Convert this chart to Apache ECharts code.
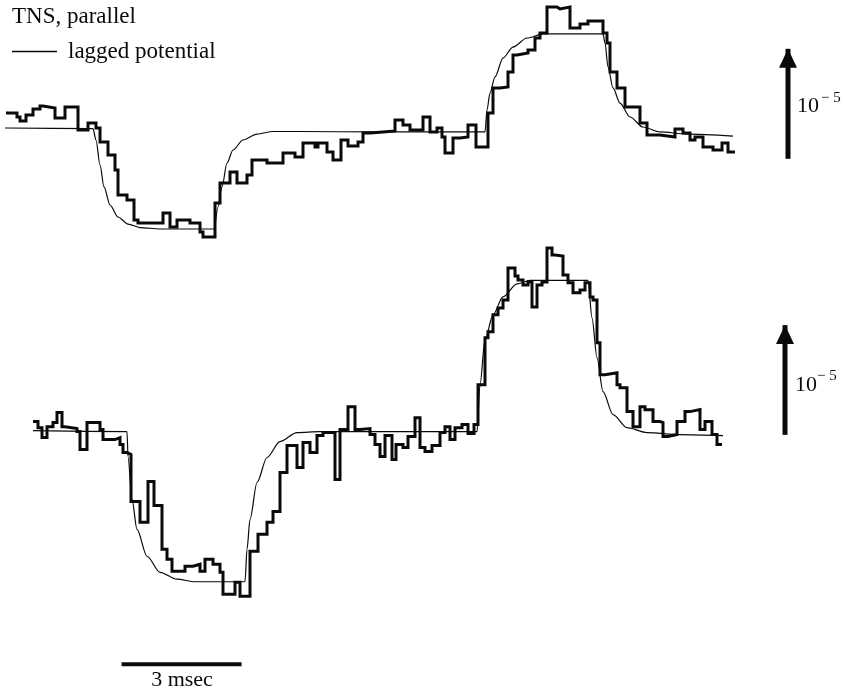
<!DOCTYPE html>
<html>
<head>
<meta charset="utf-8">
<script src="https://cdn.jsdelivr.net/npm/echarts@6/dist/echarts.min.js"></script>
<style>
html,body{margin:0;padding:0;background:#fff;}
#chart{width:847px;height:695px;}
</style>
</head>
<body>
<div id="chart"></div>
<script>
// time in msec, signal in units of 1e-6 (step traces: [segment start, level])
const topMeasured = [[0.15,1.36],[0.425,1.0],[0.5,0.64],[0.65,1.18],[0.825,1.73],[1.0,2.0],[1.075,1.82],[1.375,0.91],[1.625,1.91],[1.95,-0.18],[2.2,0.45],[2.4,0],[2.5,-1.27],[2.7,-2.45],[2.875,-3.82],[2.95,-6.09],[3.175,-6.55],[3.35,-8.36],[3.45,-8.64],[4.075,-7.73],[4.25,-9.0],[4.425,-8.36],[4.75,-8.64],[5.0,-9.45],[5.075,-9.91],[5.375,-6.82],[5.5,-5.0],[5.75,-4.0],[5.925,-5.0],[6.175,-4.27],[6.3,-2.91],[6.675,-3.18],[7.075,-2.27],[7.375,-2.64],[7.575,-1.36],[7.875,-1.73],[7.95,-1.36],[8.175,-2.18],[8.325,-2.91],[8.525,-1.09],[8.7,-1.64],[8.95,-1.27],[9.075,-0.45],[9.25,-0.36],[9.575,-0.27],[9.875,0.73],[10.075,0.27],[10.25,-0.18],[10.575,1.0],[10.75,-0.36],[10.925,0],[11.05,-0.82],[11.125,-2.27],[11.325,-0.91],[11.5,-0.82],[11.7,0.27],[11.9,-1.73],[12.2,1.36],[12.325,3.64],[12.5,3.73],[12.7,5.09],[12.825,6.64],[12.925,6.82],[13.2,7.09],[13.375,8.18],[13.5,8.64],[13.675,11.0],[13.925,10.82],[14.0,11.0],[14.25,9.09],[14.5,9.45],[14.7,9.73],[15.075,8.64],[15.175,7.73],[15.25,5.09],[15.425,3.64],[15.625,1.91],[16.0,0.45],[16.175,-0.64],[16.5,-0.82],[16.875,-0.09],[17.075,-0.45],[17.25,-1.09],[17.375,-0.82],[17.575,-1.73],[17.825,-2.0],[18.05,-1.36],[18.2,-2.18],[18.375,-2.18]];

const topLagged = [[0.125,0],[2.25,-0.05],[2.325,-0.05],[2.4,-1.09],[2.5,-3.36],[2.6,-5.36],[2.75,-7.0],[2.95,-8.09],[3.2,-8.73],[3.5,-9.05],[4.0,-9.18],[5.35,-9.18],[5.45,-7.18],[5.55,-5.36],[5.675,-3.18],[5.825,-2.0],[6.075,-1.09],[6.425,-0.55],[6.825,-0.32],[7.5,-0.32],[9.5,-0.36],[12.125,-0.36],[12.175,1.64],[12.25,3.18],[12.375,4.64],[12.575,6.36],[12.825,7.36],[13.175,8.18],[13.575,8.55],[15.075,8.55],[15.125,7.73],[15.2,5.55],[15.325,3.64],[15.5,2.27],[15.75,1.0],[16.075,0.09],[16.5,-0.36],[17.175,-0.55],[18.325,-0.73]];

const bottomMeasured = [[0.825,0.91],[0.95,0.36],[1.05,-0.55],[1.175,0.45],[1.325,0.82],[1.425,1.73],[1.55,0.45],[1.625,0.27],[1.925,0],[2.0,-1.64],[2.175,0.82],[2.5,0.18],[2.575,-0.73],[2.875,-0.55],[3.0,-1.18],[3.075,-1.91],[3.175,-2.09],[3.275,-6.36],[3.5,-8.27],[3.7,-4.55],[3.85,-6.73],[4.05,-10.73],[4.175,-11.64],[4.3,-12.73],[4.625,-12.27],[4.825,-12.09],[5.0,-12.73],[5.125,-11.64],[5.325,-12.09],[5.5,-12.82],[5.575,-14.82],[5.875,-13.73],[6.0,-15.0],[6.25,-10.91],[6.45,-9.36],[6.675,-8.27],[6.825,-7.27],[7.0,-3.73],[7.175,-1.27],[7.425,-3.27],[7.575,-1.0],[7.75,-1.91],[7.925,-0.36],[8.075,-0.09],[8.375,-4.36],[8.5,0.18],[8.7,2.27],[8.875,0.18],[9.0,0.27],[9.25,-0.27],[9.375,-1.18],[9.5,-2.27],[9.625,-0.36],[9.8,-2.55],[9.9,-1.18],[10.075,-1.45],[10.2,-0.45],[10.375,1.27],[10.5,-1.45],[10.625,-1.82],[10.8,-1.27],[11.0,-0.09],[11.125,0.45],[11.25,-0.73],[11.375,0.36],[11.55,0.64],[11.7,-0.18],[11.85,0.64],[11.95,4.27],[12.125,8.55],[12.2,9.09],[12.325,10.64],[12.45,11.27],[12.575,12.0],[12.7,14.91],[12.875,14.18],[12.95,13.82],[13.075,13.36],[13.2,13.64],[13.3,11.36],[13.425,13.36],[13.55,13.64],[13.675,16.73],[13.8,16.09],[13.875,16.0],[14.075,14.27],[14.2,13.55],[14.325,12.64],[14.5,12.91],[14.625,13.55],[14.75,12.27],[14.825,12.0],[14.925,8.09],[15.0,5.18],[15.125,5.36],[15.425,4.27],[15.5,4.0],[15.675,1.82],[15.825,0.45],[16.0,2.27],[16.125,2.0],[16.325,0.91],[16.5,0.82],[16.575,-0.45],[16.7,-0.27],[16.925,0.91],[17.125,1.82],[17.25,2.0],[17.5,0.18],[17.625,0.91],[17.8,-0.27],[17.925,-1.18],[18.05,-1.18]];

const bottomLagged = [[0.825,0.09],[3.175,0],[3.2,-2.27],[3.3,-6.18],[3.425,-8.91],[3.675,-11.36],[4.0,-12.82],[4.425,-13.45],[4.875,-13.68],[6.125,-13.68],[6.175,-10.73],[6.25,-8.0],[6.425,-4.64],[6.675,-2.36],[7.0,-0.91],[7.425,-0.09],[8.0,0],[11.925,0],[12.0,4.27],[12.125,8.36],[12.325,10.64],[12.575,12.27],[12.925,13.45],[13.25,13.77],[14.7,13.77],[14.8,10.36],[14.925,6.73],[15.075,3.64],[15.325,1.55],[15.675,0.36],[16.175,-0.09],[17.0,-0.27],[18.075,-0.36]];

const arrowUnits = 10;        // 10^-5 scale arrows (in 1e-6 units)
const topArrowBase = -2.8;
const bottomArrowBase = -0.3;
const scaleBarMs = 3;         // 3 msec time bar
const scaleBarStart = 3.04;
const scaleBarLevel = -21.2;

const INK = '#0a0a0a';
const SERIF = '"Liberation Serif", "Times New Roman", serif';

const chart = echarts.init(document.getElementById('chart'), null, {renderer: 'canvas'});

function arrowSeries(gridIdx, xPos, base) {
  return {
    type: 'line', xAxisIndex: gridIdx, yAxisIndex: gridIdx,
    silent: true, clip: false,
    lineStyle: {color: INK, width: 5, cap: 'butt'},
    itemStyle: {color: INK},
    data: [
      {value: [xPos, base], symbol: 'none'},
      {value: [xPos, base + arrowUnits], symbol: 'triangle', symbolSize: [18, 19], symbolOffset: [0, '50%']}
    ]
  };
}

const option = {
  backgroundColor: '#ffffff',
  animation: false,
  legend: {
    data: ['lagged potential'],
    left: 12, top: 40, padding: 0,
    icon: 'rect',
    itemWidth: 45, itemHeight: 1.3,
    selectedMode: false,
    itemStyle: {color: INK},
    textStyle: {fontFamily: SERIF, fontSize: 23, color: INK, padding: [0, 0, 0, 6]}
  },
  grid: [
    {left: 0, right: 0, top: 7, height: 286},
    {left: 0, right: 0, top: 245, height: 451}
  ],
  xAxis: [
    {type: 'value', gridIndex: 0, min: 0, max: 21.175, show: false},
    {type: 'value', gridIndex: 1, min: 0, max: 21.175, show: false}
  ],
  yAxis: [
    {type: 'value', gridIndex: 0, min: -15, max: 11, show: false},
    {type: 'value', gridIndex: 1, min: -24, max: 17, show: false}
  ],
  series: [
    {
      name: 'TNS, parallel', type: 'line', step: 'end', xAxisIndex: 0, yAxisIndex: 0,
      symbol: 'none', clip: false, silent: true,
      lineStyle: {color: INK, width: 3, join: 'miter'},
      data: topMeasured
    },
    {
      name: 'lagged potential', type: 'line', xAxisIndex: 0, yAxisIndex: 0,
      symbol: 'none', showSymbol: false, clip: false, silent: true, smooth: 0.3, smoothMonotone: 'x',
      lineStyle: {color: INK, width: 1.2},
      itemStyle: {color: INK},
      data: topLagged
    },
    {
      name: 'TNS, parallel', type: 'line', step: 'end', xAxisIndex: 1, yAxisIndex: 1,
      symbol: 'none', clip: false, silent: true,
      lineStyle: {color: INK, width: 3, join: 'miter'},
      data: bottomMeasured
    },
    {
      name: 'lagged potential', type: 'line', xAxisIndex: 1, yAxisIndex: 1,
      symbol: 'none', showSymbol: false, clip: false, silent: true, smooth: 0.3, smoothMonotone: 'x',
      lineStyle: {color: INK, width: 1.2},
      itemStyle: {color: INK},
      data: bottomLagged
    },
    arrowSeries(0, 19.7, topArrowBase),
    arrowSeries(1, 19.625, bottomArrowBase),
    {
      type: 'line', xAxisIndex: 1, yAxisIndex: 1, symbol: 'none', silent: true, clip: false,
      lineStyle: {color: INK, width: 4, cap: 'butt'},
      data: [[scaleBarStart, scaleBarLevel], [scaleBarStart + scaleBarMs, scaleBarLevel]]
    }
  ],
  graphic: [
    {type: 'text', x: 12, y: 17, style: {text: 'TNS, parallel', font: '23px ' + SERIF, fill: INK, align: 'left', verticalAlign: 'middle', textAlign: 'left', textVerticalAlign: 'middle'}},
    {type: 'text', x: 797, y: 106, style: {text: '10', font: '22px ' + SERIF, fill: INK, align: 'left', verticalAlign: 'middle', textAlign: 'left', textVerticalAlign: 'middle'}},
    {type: 'text', x: 821, y: 98, style: {text: '\u2212 5', font: '15px ' + SERIF, fill: INK, align: 'left', verticalAlign: 'middle', textAlign: 'left', textVerticalAlign: 'middle'}},
    {type: 'text', x: 795, y: 385, style: {text: '10', font: '22px ' + SERIF, fill: INK, align: 'left', verticalAlign: 'middle', textAlign: 'left', textVerticalAlign: 'middle'}},
    {type: 'text', x: 817, y: 376, style: {text: '\u2212 5', font: '15px ' + SERIF, fill: INK, align: 'left', verticalAlign: 'middle', textAlign: 'left', textVerticalAlign: 'middle'}},
    {type: 'text', x: 182, y: 680, style: {text: '3 msec', font: '22px ' + SERIF, fill: INK, align: 'center', verticalAlign: 'middle', textAlign: 'center', textVerticalAlign: 'middle'}}
  ]
};
chart.setOption(option);
</script>
</body>
</html>
